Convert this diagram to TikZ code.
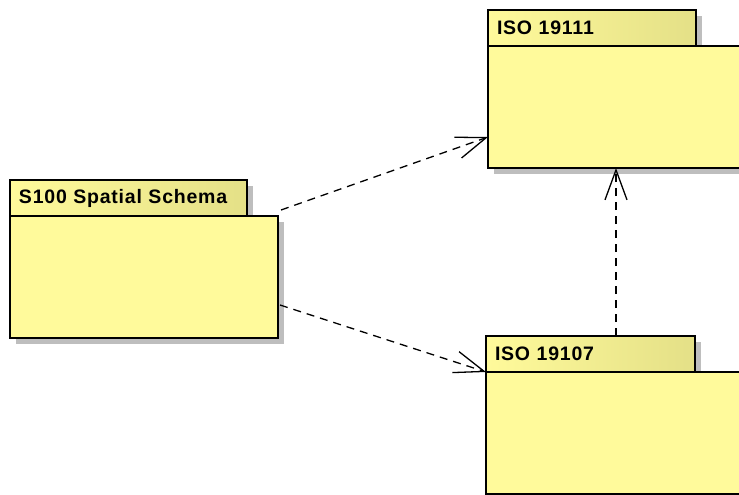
\documentclass[tikz,border=0pt]{standalone}
\usepackage{fontspec}
\setmainfont{Liberation Sans}
\newfontfamily\pkgfont[LetterSpace=4]{Liberation Sans}
\usetikzlibrary{arrows.meta,shadows}
\definecolor{pkgfill}{RGB}{255,250,155}
\definecolor{pkgdark}{RGB}{228,224,135}
\definecolor{pkgshadow}{RGB}{190,190,190}

\begin{document}
\begin{tikzpicture}[line cap=butt,line join=miter,x=1pt,y=-1pt,
  >={Straight Barb[length=30pt,width=22pt,line width=1.3pt]},
  pkgtab/.style={draw=black,line width=1.5pt,anchor=north west,inner sep=0pt,outer sep=0pt,
    minimum height=36pt,text width=#1-18pt,align=left,inner xsep=9pt,
    left color=pkgfill,right color=pkgdark,shading angle=90,
    font=\pkgfont\fontsize{19.5}{22}\selectfont\bfseries,
    drop shadow={shadow xshift=6pt,shadow yshift=-6pt,fill=pkgshadow,opacity=1}},
  pkgbody/.style={draw=black,line width=1.5pt,anchor=north west,inner sep=0pt,outer sep=0pt,
    minimum height=122pt,minimum width=#1,fill=pkgfill,
    drop shadow={shadow xshift=6pt,shadow yshift=-6pt,fill=pkgshadow,opacity=1}},
  dep/.style={->,line width=1.3pt,dash pattern=on 8pt off 6pt}]
\useasboundingbox (0,0) rectangle (739,495);
\clip (0,0) rectangle (739,495);
% packages
\node[pkgtab=237pt] (s100tab) at (10,180) {S100 Spatial Schema};
\node[pkgbody=268pt] (s100body) at (10,216) {};
\node[pkgtab=208pt] (i11tab) at (488,10) {ISO 19111};
\node[pkgbody=300pt] (i11body) at (488,46) {};
\node[pkgtab=209pt] (i07tab) at (486,336) {ISO 19107};
\node[pkgbody=300pt] (i07body) at (486,372) {};
% dependencies
\draw[dep] ([shift={(3pt,6pt)}]s100body.north east) -- ([yshift=31pt]i11body.south west);
\draw[dep] ([shift={(2pt,-28pt)}]s100body.east) -- (i07body.north west);
\draw[dep] ([xshift=25.5pt]i07tab.north) -- ([xshift=25.5pt]i07tab.north |- i11body.south);
\end{tikzpicture}
\end{document}
